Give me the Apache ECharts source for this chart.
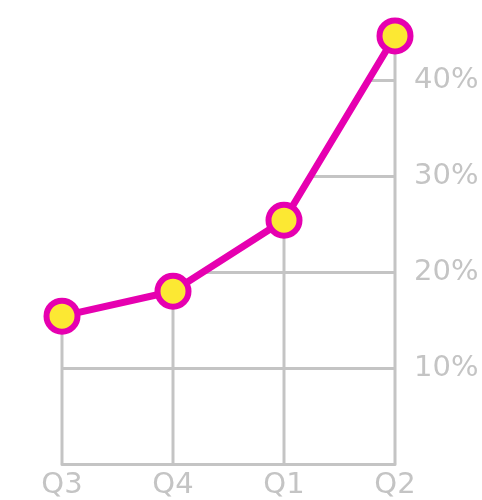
<!DOCTYPE html>
<html>
<head>
<meta charset="utf-8">
<script src="https://cdn.jsdelivr.net/npm/echarts@6/dist/echarts.min.js"></script>
<style>html,body{margin:0;padding:0;background:#fff}#c{width:482px;height:500px}</style>
</head>
<body>
<div id="c"></div>
<script>
const categories = ['Q3', 'Q4', 'Q1', 'Q2'];
const values = [15.4, 18.0, 25.4, 44.6];
const yTicks = [0, 10, 20, 30, 40];
const yMax = 48;

const gray = '#C4C4C4';
const font = 'DejaVu Sans';
const chart = echarts.init(document.getElementById('c'), null, {renderer: 'canvas'});
chart.setOption({
  animation: false,
  grid: {left: 62, right: 87, top: 3.3, bottom: 33.5, containLabel: false},
  xAxis: {
    type: 'category',
    data: categories,
    boundaryGap: false,
    axisLine: {show: true, lineStyle: {color: gray, width: 3}},
    axisTick: {show: false},
    splitLine: {show: false},
    axisLabel: {color: gray, fontSize: 29, fontFamily: font, margin: 7}
  },
  yAxis: {
    type: 'value',
    position: 'right',
    min: yTicks[0],
    max: yMax,
    interval: 10,
    axisLine: {show: false},
    axisTick: {show: false},
    splitLine: {show: true, showMaxLine: false, lineStyle: {color: gray, width: 3}},
    axisLabel: {
      color: gray, fontSize: 29, fontFamily: font, margin: 19,
      showMinLabel: false, showMaxLabel: false,
      formatter: v => yTicks.indexOf(v) > 0 ? v + '%' : ''
    }
  },
  series: [{
    type: 'bar',
    data: values,
    barWidth: 3,
    z: 1,
    itemStyle: {color: gray}
  }, {
    type: 'line',
    data: values,
    clip: false,
    z: 3,
    lineStyle: {color: '#E600B0', width: 7},
    areaStyle: {color: '#ffffff', opacity: 1, origin: 'end'},
    symbol: 'circle',
    symbolSize: 31,
    itemStyle: {color: '#FCE833', borderColor: '#E600B0', borderWidth: 6}
  }]
});
</script>
</body>
</html>
